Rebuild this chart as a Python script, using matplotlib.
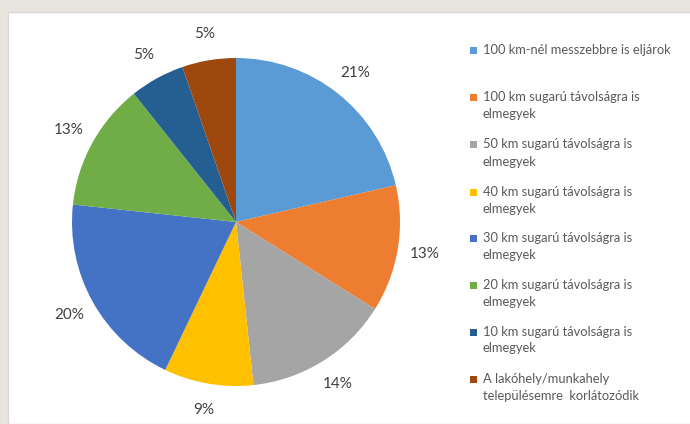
import matplotlib
matplotlib.use("Agg")
import matplotlib.pyplot as plt
from matplotlib.patches import Rectangle
import numpy as np

categories = [
    "100 km-nél messzebbre is eljárok",
    "100 km sugarú távolságra is\nelmegyek",
    "50 km sugarú távolságra is\nelmegyek",
    "40 km sugarú távolságra is\nelmegyek",
    "30 km sugarú távolságra is\nelmegyek",
    "20 km sugarú távolságra is\nelmegyek",
    "10 km sugarú távolságra is\nelmegyek",
    "A lakóhely/munkahely\ntelepülésemre  korlátozódik",
]
shares = [21.4, 12.5, 14.4, 8.8, 19.6, 12.6, 5.4, 5.3]
pct_labels = ["21%", "13%", "14%", "9%", "20%", "13%", "5%", "5%"]
colors = ["#5B9BD5", "#ED7D31", "#A5A5A5", "#FFC000",
          "#4472C4", "#70AD47", "#255E91", "#9E480E"]

W, H = 690, 424
fig = plt.figure(figsize=(W / 100, H / 100), dpi=100)
fig.patch.set_facecolor("#E8E4DE")
fig.patches.append(Rectangle((8 / W, 0), 1, 1 - 12 / H, transform=fig.transFigure,
                             facecolor="white", edgecolor="#D9D9D9", linewidth=1.0,
                             zorder=-5))

cx, cy, r = 236, H - 222, 164
ax = fig.add_axes([0, 0, 1, 1])
ax.set_zorder(2)
ax.patch.set_visible(False)
wedges, texts = ax.pie(shares, colors=colors, startangle=90, counterclock=False,
                       radius=1.0, wedgeprops=dict(linewidth=0))
cum = np.cumsum([0] + shares[:-1])
for s, c0, lab in zip(shares, cum, pct_labels):
    ang = np.deg2rad(90 - (c0 + s / 2) / sum(shares) * 360)
    d = 1.165
    ax.text(d * np.cos(ang), d * np.sin(ang), lab, ha="center", va="center",
            fontsize=11, color="#404040", family="Lato")
ax.set_xlim((0 - cx) / r, (W - cx) / r)
ax.set_ylim((0 - cy) / r, (H - cy) / r)
ax.set_aspect("auto")
ax.axis("off")

line_y = [[50], [97, 114], [144, 162], [192, 209], [238, 255], [285, 302], [332, 348], [379, 396]]
for cat, col, ys in zip(categories, colors, line_y):
    fig.patches.append(Rectangle((470 / W, 1 - (ys[0] + 3.5) / H), 7 / W, 7 / H,
                                 transform=fig.transFigure, facecolor=col,
                                 edgecolor="none", zorder=3))
    for line, y in zip(cat.split("\n"), ys):
        fig.text(483 / W, 1 - y / H, line, ha="left", va="center",
                 fontsize=9.3, color="#595959", family="Lato")

fig.savefig("out.png", dpi=100, facecolor=fig.get_facecolor())
